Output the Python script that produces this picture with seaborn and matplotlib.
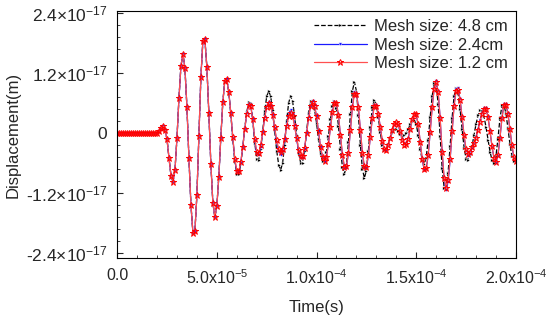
import numpy as np
import pandas as pd
import matplotlib
matplotlib.use("Agg")
import matplotlib.pyplot as plt
import seaborn as sns
from matplotlib.ticker import MultipleLocator, FixedLocator, FixedFormatter

# time axis in microseconds (1 us steps, 0..200 us)
time_us = np.arange(0, 201)

# displacement in units of 1e-17 m
mesh_12 = [0.0] * 20 + [
    0.0, 0.03, 0.10, 0.14, 0.06, -0.12, -0.50, -0.85, -0.98,
    -0.74, -0.10, 0.70, 1.34, 1.58,
    1.29, 0.52, -0.50, -1.43, -1.99,
    -1.96, -1.24, -0.06, 1.12, 1.84,
    1.87, 1.32, 0.39, -0.62, -1.39, -1.68,
    -1.46, -0.87, -0.09, 0.62, 1.04,
    1.07, 0.82, 0.40, -0.08, -0.51, -0.75,
    -0.76, -0.58, -0.28, 0.08, 0.38, 0.56,
    0.54, 0.27, -0.11, -0.38,
    -0.40, -0.24, 0.02, 0.30, 0.52, 0.60,
    0.53, 0.36, 0.11, -0.14, -0.31, -0.38,
    -0.31, -0.11, 0.13, 0.33, 0.40,
    0.33, 0.14, -0.10, -0.33, -0.46,
    -0.46, -0.29, -0.01, 0.30, 0.53, 0.62,
    0.54, 0.33, 0.03, -0.27, -0.48, -0.56,
    -0.47, -0.21, 0.11, 0.42, 0.60,
    0.59, 0.35, -0.04, -0.43, -0.67,
    -0.66, -0.39, 0.06, 0.51, 0.78,
    0.78, 0.51, 0.06, -0.39, -0.66,
    -0.67, -0.44, -0.07, 0.30, 0.53,
    0.54, 0.38, 0.11, -0.16, -0.32,
    -0.33, -0.24, -0.10, 0.06, 0.18, 0.22,
    0.17, 0.03, -0.13, -0.23,
    -0.22, -0.11, 0.08, 0.27, 0.38,
    0.37, 0.17, -0.17, -0.51, -0.71,
    -0.70, -0.44, 0.02, 0.51, 0.88, 1.02,
    0.82, 0.29, -0.37, -0.90, -1.10,
    -0.94, -0.52, 0.03, 0.54, 0.84,
    0.85, 0.66, 0.32, -0.04, -0.32, -0.42,
    -0.37, -0.28, -0.20, -0.10, 0.05, 0.22, 0.38, 0.48,
    0.48, 0.31, 0.04, -0.26, -0.49, -0.58,
    -0.44, -0.10, 0.29, 0.55,
    0.55, 0.37, 0.08, -0.24, -0.48, -0.56,
]

# coarser meshes overlap the fine one up to ~55 us
mesh_48 = mesh_12[:56] + [
    0.82, 0.38, -0.12, -0.56, -0.81,
    -0.82, -0.62, -0.29, 0.09, 0.42, 0.61,
    0.59, 0.27, -0.19, -0.51,
    -0.53, -0.32, 0.04, 0.43, 0.73, 0.84,
    0.73, 0.45, 0.05, -0.35, -0.63, -0.74,
    -0.60, -0.23, 0.23, 0.60, 0.74,
    0.63, 0.34, -0.04, -0.39, -0.59,
    -0.59, -0.36, 0.02, 0.40, 0.63,
    0.64, 0.48, 0.20, -0.12, -0.40, -0.56,
    -0.56, -0.37, -0.06, 0.28, 0.54, 0.64,
    0.50, 0.14, -0.32, -0.68, -0.82,
    -0.64, -0.18, 0.38, 0.84, 1.02,
    0.84, 0.36, -0.24, -0.72, -0.90,
    -0.75, -0.36, 0.12, 0.51, 0.66,
    0.57, 0.31, 0.01, -0.24, -0.34,
    -0.31, -0.22, -0.10, 0.01, 0.07,
    0.08, 0.04, -0.02, -0.06,
    -0.05, -0.01, 0.08, 0.17, 0.23, 0.26,
    0.18, -0.04, -0.32, -0.54, -0.62,
    -0.49, -0.14, 0.32, 0.74, 0.99,
    0.97, 0.58, -0.06, -0.70, -1.09,
    -1.10, -0.79, -0.26, 0.30, 0.74, 0.90,
    0.79, 0.48, 0.08, -0.29, -0.51,
    -0.53, -0.43, -0.26, -0.04, 0.18, 0.35, 0.45,
    0.44, 0.33, 0.12, -0.13, -0.37, -0.54, -0.60,
    -0.46, -0.11, 0.29, 0.55,
    0.56, 0.39, 0.10, -0.22, -0.46, -0.55, -0.50,
]

mesh_24 = mesh_12[:56] + [
    0.82, 0.40, -0.09, -0.53, -0.77,
    -0.78, -0.59, -0.28, 0.08, 0.39, 0.57,
    0.55, 0.27, -0.13, -0.42,
    -0.44, -0.27, 0.01, 0.31, 0.53, 0.61,
    0.54, 0.36, 0.10, -0.17, -0.37, -0.44,
    -0.36, -0.12, 0.15, 0.38, 0.46,
    0.38, 0.16, -0.11, -0.36, -0.49,
    -0.49, -0.31, -0.01, 0.31, 0.54, 0.63,
    0.55, 0.33, 0.03, -0.28, -0.49, -0.57,
    -0.48, -0.21, 0.12, 0.43, 0.62,
    0.60, 0.35, -0.05, -0.45, -0.70,
    -0.69, -0.40, 0.07, 0.53, 0.81,
    0.80, 0.52, 0.05, -0.41, -0.69,
    -0.69, -0.45, -0.07, 0.31, 0.55,
    0.55, 0.38, 0.11, -0.16, -0.33,
    -0.33, -0.24, -0.10, 0.05, 0.16, 0.20,
    0.15, 0.02, -0.12, -0.21,
    -0.20, -0.10, 0.08, 0.26, 0.37,
    0.36, 0.16, -0.18, -0.52, -0.73,
    -0.72, -0.45, 0.02, 0.52, 0.89, 1.03,
    0.83, 0.29, -0.38, -0.93, -1.14,
    -0.98, -0.54, 0.03, 0.56, 0.88,
    0.89, 0.68, 0.32, -0.06, -0.35, -0.46,
    -0.41, -0.30, -0.20, -0.08, 0.08, 0.25, 0.40, 0.49,
    0.49, 0.32, 0.04, -0.27, -0.50, -0.59,
    -0.45, -0.10, 0.30, 0.58,
    0.58, 0.39, 0.08, -0.25, -0.50, -0.58,
]

labels = ["Mesh size: 4.8 cm", "Mesh size: 2.4cm", "Mesh size: 1.2 cm"]

yticks = [-2.4e-17, -1.2e-17, 0, 1.2e-17, 2.4e-17]
ytick_labels = [r"-2.4$\times$10$^{-17}$", r"-1.2$\times$10$^{-17}$", "0",
                r"1.2$\times$10$^{-17}$", r"2.4$\times$10$^{-17}$"]
xticks = [0, 5e-5, 1e-4, 1.5e-4, 2e-4]
xtick_labels = ["0.0", r"5.0x10$^{-5}$", r"1.0x10$^{-4}$", r"1.5x10$^{-4}$", r"2.0x10$^{-4}$"]

t = time_us * 1e-6
df = pd.DataFrame({
    "t": t,
    "m48": np.array(mesh_48) * 1e-17,
    "m24": np.array(mesh_24) * 1e-17,
    "m12": np.array(mesh_12) * 1e-17,
})

sns.set_style("white")
plt.rcParams["font.family"] = ["Liberation Sans", "DejaVu Sans"]
plt.rcParams["mathtext.fontset"] = "custom"
plt.rcParams["mathtext.rm"] = "Liberation Sans"
plt.rcParams["mathtext.it"] = "Liberation Sans"

fig = plt.figure(figsize=(5.5, 3.21), dpi=100)
ax = fig.add_axes([0.213, 0.196, 0.725, 0.770])

sns.lineplot(data=df, x="t", y="m48", ax=ax, color="black", lw=0.9, linestyle="--",
             marker=">", markersize=2.5, markeredgewidth=0.3, label=labels[0])
sns.lineplot(data=df, x="t", y="m24", ax=ax, color="#1a1aff", lw=0.9,
             marker="v", markersize=2.5, markeredgewidth=0.3, label=labels[1])
sns.lineplot(data=df, x="t", y="m12", ax=ax, color="#ff5050", lw=0.9,
             marker="*", markersize=5, markerfacecolor="none",
             markeredgecolor="red", markeredgewidth=0.7, label=labels[2])

ax.set_xlim(0, 2e-4)
ax.set_ylim(-2.5e-17, 2.44e-17)
ax.xaxis.set_major_locator(FixedLocator(xticks))
ax.xaxis.set_major_formatter(FixedFormatter(xtick_labels))
ax.yaxis.set_major_locator(FixedLocator(yticks))
ax.yaxis.set_major_formatter(FixedFormatter(ytick_labels))
ax.xaxis.set_minor_locator(MultipleLocator(1e-5))
ax.yaxis.set_minor_locator(MultipleLocator(0.24e-17))
ax.tick_params(which="both", direction="in", left=True, bottom=True,
               right=False, top=False)
ax.tick_params(which="major", length=4, width=0.8)
ax.tick_params(which="minor", length=2.5, width=0.6)
ax.tick_params(axis="y", which="major", labelsize=12.5, pad=7)
ax.tick_params(axis="x", which="major", labelsize=11.5, pad=7)
for s in ax.spines.values():
    s.set_color("black")
    s.set_linewidth(0.8)

ax.set_xlabel("Time(s)", fontsize=12, labelpad=10)
ax.set_ylabel("Displacement(m)", fontsize=12, labelpad=4)

ax.legend(loc="upper right", frameon=False, fontsize=12, handlelength=3.2,
          borderaxespad=0.1, labelspacing=0.2, handletextpad=0.4)

fig.savefig("out.png", dpi=100)
